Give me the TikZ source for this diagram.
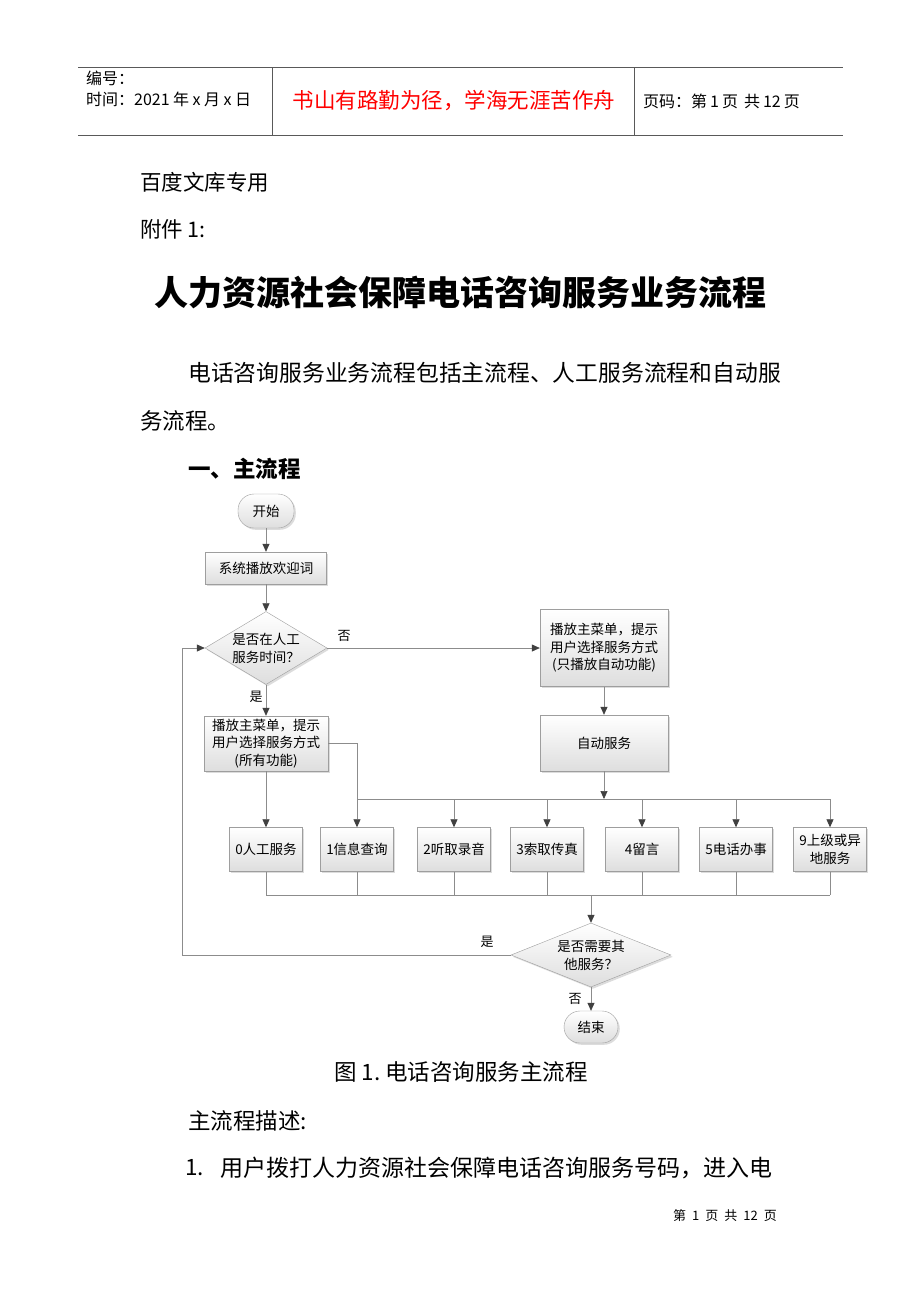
\documentclass[tikz,border=0pt]{standalone}
\usepackage{fontspec}
\setmainfont{Noto Sans CJK SC}
\usetikzlibrary{shapes.geometric,arrows.meta,shadows}
\newcommand\fsz[2]{\fontsize{#1}{#2}\selectfont}
\tikzset{
  flowbox/.style={draw=black!38, top color=white, bottom color=black!13, drop shadow={shadow xshift=1.8pt, shadow yshift=-1.8pt, fill=black!30, opacity=0.45}, inner sep=0pt, align=center, font=\fsz{13.5}{17.5}},
  stadium/.style={flowbox, rounded corners=16pt},
  diabox/.style={flowbox, shape=diamond, inner sep=0pt},
  dtext/.style={align=center, font=\fsz{13.5}{18}},
  conn/.style={draw=black!45, line width=0.7pt},
  arr/.style={conn, -{Triangle[length=8pt,width=7pt,fill=black!75,color=black!75]}},
  lbl/.style={font=\fsz{13}{15}, inner sep=0pt},
  body/.style={anchor=west, inner sep=0pt, font=\fsz{21.5}{26}},
  hdr/.style={draw=black!65, line width=0.8pt}
}
\begin{document}
\begin{tikzpicture}[x=1pt,y=-1pt]
\fill[white] (0,0) rectangle (920,1302);
\useasboundingbox (0,0) rectangle (920,1302);
% header
\draw[hdr] (78,67) -- (843,67);
\draw[hdr] (78,135) -- (843,135);
\draw[hdr] (272,67) -- (272,135);
\draw[hdr] (634,67) -- (634,135);
\node[anchor=west, inner sep=0pt, font=\fsz{16}{18}] (h1) at (86,78) {编号：};
\node[anchor=west, inner sep=0pt, font=\fsz{16}{18}] (h2) at (86,99) {时间：2021\hspace{3.5pt}年\hspace{3.5pt}x\hspace{3.5pt}月\hspace{3.5pt}x\hspace{3.5pt}日};
\node[inner sep=0pt, font=\fsz{21.5}{24}, text=red] (h3) at (454,101) {书山有路勤为径，学海无涯苦作舟};
\node[anchor=west, inner sep=0pt, font=\fsz{16}{18}] (h4) at (643,101) {页码：第\hspace{3pt}1\hspace{3pt}页\hspace{6pt}共\hspace{3pt}12\hspace{3pt}页};
% body text
\node[body] (t1) at (140,182) {百度文库专用};
\node[body] (t2) at (140,229) {附件~1:};
\node[inner sep=0pt, font=\fsz{34}{38}\bfseries] (title) at (460,293) {人力资源社会保障电话咨询服务业务流程};
\node[body, font=\fsz{22.8}{26}] (p1) at (188,373) {电话咨询服务业务流程包括主流程、人工服务流程和自动服};
\node[body, font=\fsz{22.5}{26}] (p2) at (140,421) {务流程。};
\node[body, font=\fsz{22.5}{26}\bfseries] (sec) at (188,469) {一、主流程};
% flowchart
\node[stadium, minimum width=56pt, minimum height=34pt] (start) at (266,511) {开始};
\node[flowbox, minimum width=121pt, minimum height=32pt] (welcome) at (266,568) {系统播放欢迎词};
\node[diabox, minimum width=122pt, minimum height=73pt] (d1) at (266,648) {};
\node[dtext] (d1t) at (266,648) {是否在人工\\服务时间？};
\node[flowbox, minimum width=128pt, minimum height=77pt] (automenu) at (604,648) {播放主菜单，提示\\用户选择服务方式\\(只播放自动功能)};
\node[flowbox, minimum width=128pt, minimum height=56pt] (auto) at (604,743) {自动服务};
\node[flowbox, minimum width=124pt, minimum height=55pt] (allmenu) at (266,743.5) {播放主菜单，提示\\用户选择服务方式\\(所有功能)};
\foreach \n/\x/\t in {b0/266/0人工服务, b1/357/1信息查询, b2/454/2听取录音, b3/547/3索取传真, b4/642/4留言, b5/736/5电话办事, b9/830/{9上级或异\\地服务}}{
  \node[flowbox, minimum width=73pt, minimum height=44pt] (\n) at (\x,849.5) {\t};
}
\node[diabox, minimum width=160pt, minimum height=64pt] (d2) at (591,955) {};
\node[dtext] (d2t) at (591,955) {是否需要其\\他服务？};
\node[stadium, minimum width=54pt, minimum height=32pt] (end) at (591,1027) {结束};
\coordinate (j1) at (604,799);
\coordinate (j2) at (591,895);
\coordinate (loopb) at (182,955);
% connectors
\draw[arr] (start) -- (welcome);
\draw[arr] (welcome) -- (d1);
\draw[arr] (d1.east) -- (automenu.west);
\draw[arr] (d1.south) -- (allmenu.north);
\draw[arr] (automenu) -- (auto);
\draw[arr] (auto.south) -- (j1);
\draw[arr] (allmenu.south) -- (b0.north);
\draw[arr] (allmenu.east) -| (b1.north);
\draw[conn] (b1.north |- j1) -- (b9.north |- j1);
\foreach \n in {b2,b3,b4,b5,b9}{\draw[arr] (\n.north |- j1) -- (\n.north);}
\foreach \n in {b0,b1,b2,b3,b4,b5,b9}{\draw[conn] (\n.south) -- (\n.south |- j2);}
\draw[conn] (b0.south |- j2) -- (b9.south |- j2);
\draw[arr] (j2) -- (d2.north);
\draw[arr] (d2.west) -- (loopb) |- (d1.west);
\draw[arr] (d2.south) -- (end.north);
\node[lbl] (l1) at (344,636) {否};
\node[lbl] (l2) at (256,697) {是};
\node[lbl] (l3) at (487,942) {是};
\node[lbl] (l4) at (575,999) {否};
% caption and text
\node[inner sep=0pt, font=\fsz{22.5}{26}] (cap) at (461,1072) {图~1.~电话咨询服务主流程};
\node[body, font=\fsz{22.5}{26}] (p3) at (188,1121) {主流程描述:};
\node[body, font=\fsz{22.5}{26}] (p4a) at (185,1168) {1.};
\node[body, font=\fsz{23}{26}] (p4) at (220,1168) {用户拨打人力资源社会保障电话咨询服务号码，进入电};
\node[inner sep=0pt, font=\fsz{13}{15}] (foot) at (725,1216) {第\hspace{6pt}1\hspace{6pt}页\hspace{6pt}共\hspace{6pt}12\hspace{6pt}页};
\end{tikzpicture}
\end{document}
